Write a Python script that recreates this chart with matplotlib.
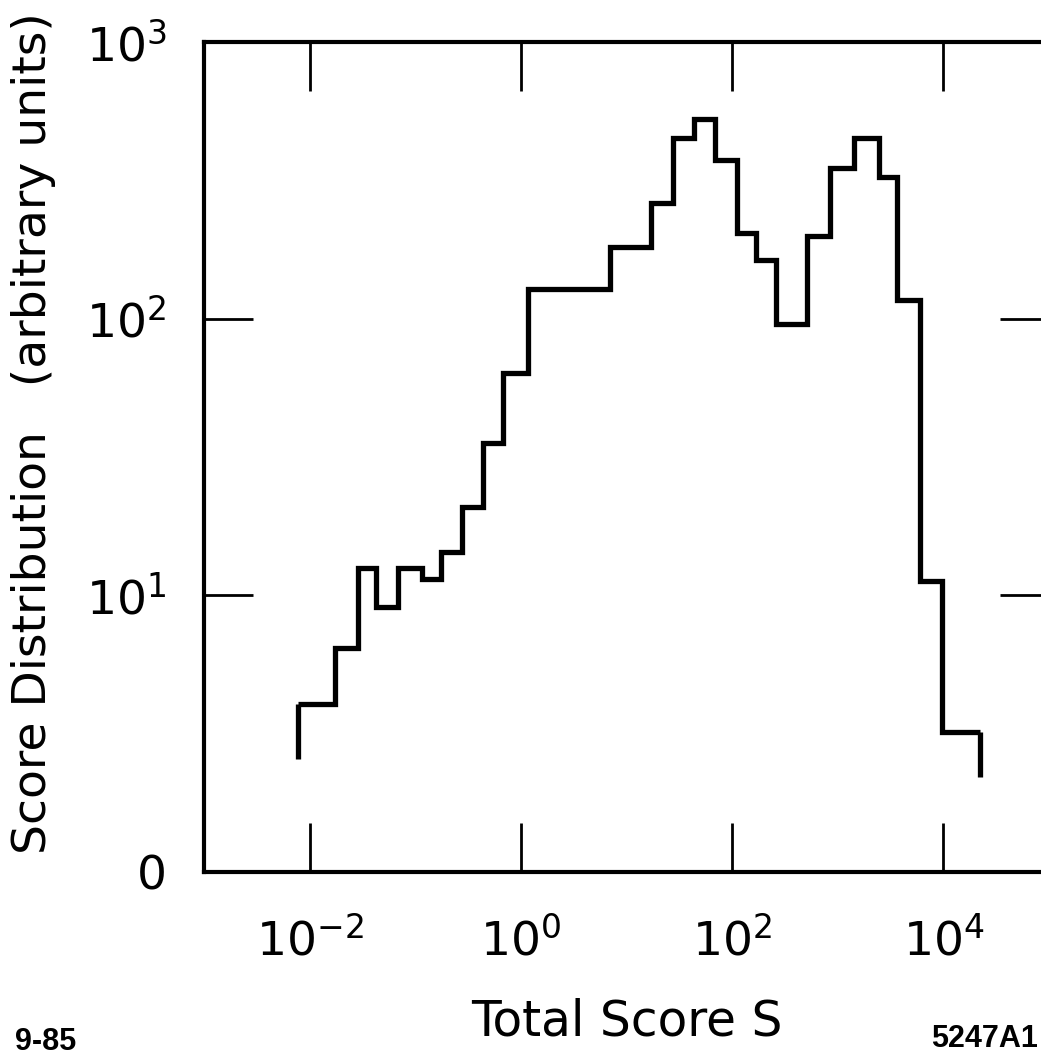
import numpy as np
import matplotlib
matplotlib.use("Agg")
import matplotlib.pyplot as plt

# ---- data ----
bin_edges_log10 = [-2.11, -1.76, -1.54, -1.37, -1.16, -0.94, -0.76, -0.56, -0.36, -0.17,
                   0.07, 0.84, 1.23, 1.44, 1.64, 1.84, 2.05, 2.23, 2.42, 2.71,
                   2.93, 3.15, 3.39, 3.56, 3.78, 3.99, 4.35]
score_dist = [4.05, 6.46, 12.6, 9.08, 12.6, 11.5, 14.4, 20.8, 35.6, 63.7,
              128, 182, 262, 450, 527, 375, 204, 163, 95.7, 199,
              351, 450, 325, 117, 11.3, 3.21]
start_level = 2.56
end_level = 2.21
x_ticks = [1e-2, 1e0, 1e2, 1e4]
x_tick_labels = [r'$10^{-2}$', r'$10^{0}$', r'$10^{2}$', r'$10^{4}$']
y_ticks = [1, 10, 100, 1000]
y_tick_labels = ['0', r'$10^{1}$', r'$10^{2}$', r'$10^{3}$']

plt.rcParams['font.family'] = ['DejaVu Sans']
plt.rcParams['mathtext.fontset'] = 'dejavusans'

W, H = 1041, 1057
fig = plt.figure(figsize=(W / 100, H / 100), dpi=100)
ax = fig.add_axes([204 / W, 185 / H, (1049 - 204) / W, 830 / H])

edges = 10.0 ** np.array(bin_edges_log10)
ax.stairs(score_dist, edges, baseline=None, color='black', linewidth=3.8)
ax.vlines([edges[0]], start_level, score_dist[0], color='black', linewidth=3.8)
ax.vlines([edges[-1]], end_level, score_dist[-1], color='black', linewidth=3.8)

ax.set_xscale('log')
ax.set_yscale('log')
ax.set_xlim(1e-3, 1e5)
ax.set_ylim(1, 1000)

ax.set_xticks(x_ticks)
ax.set_xticklabels(x_tick_labels)
ax.set_yticks(y_ticks)
ax.set_yticklabels(y_tick_labels)
ax.minorticks_off()
ax.tick_params(axis='both', which='major', direction='in', length=35, width=2.0,
               top=True, right=True, labelsize=34, colors='black')
ax.tick_params(axis='x', pad=33)
ax.tick_params(axis='y', pad=27)

for sp in ax.spines.values():
    sp.set_linewidth(3.0)
    sp.set_color('black')

# axis titles
fig.text((204 + 1049) / 2 / W, 1 - 1035 / H, 'Total Score S', ha='center', va='baseline',
         fontsize=35)
fig.text(34 / W, 1 - 433 / H, 'Score Distribution   (arbitrary units)', rotation=90,
         ha='center', va='center', fontsize=34)

# figure stamps
fig.text(15 / W, 1 - 1050 / H, '9-85', ha='left', va='baseline', fontsize=22,
         family='Liberation Sans', weight='bold')
fig.text(1038 / W, 1 - 1047 / H, '5247A1', ha='right', va='baseline', fontsize=22,
         family='Liberation Sans', weight='bold')

fig.savefig('out.png', dpi=100)
